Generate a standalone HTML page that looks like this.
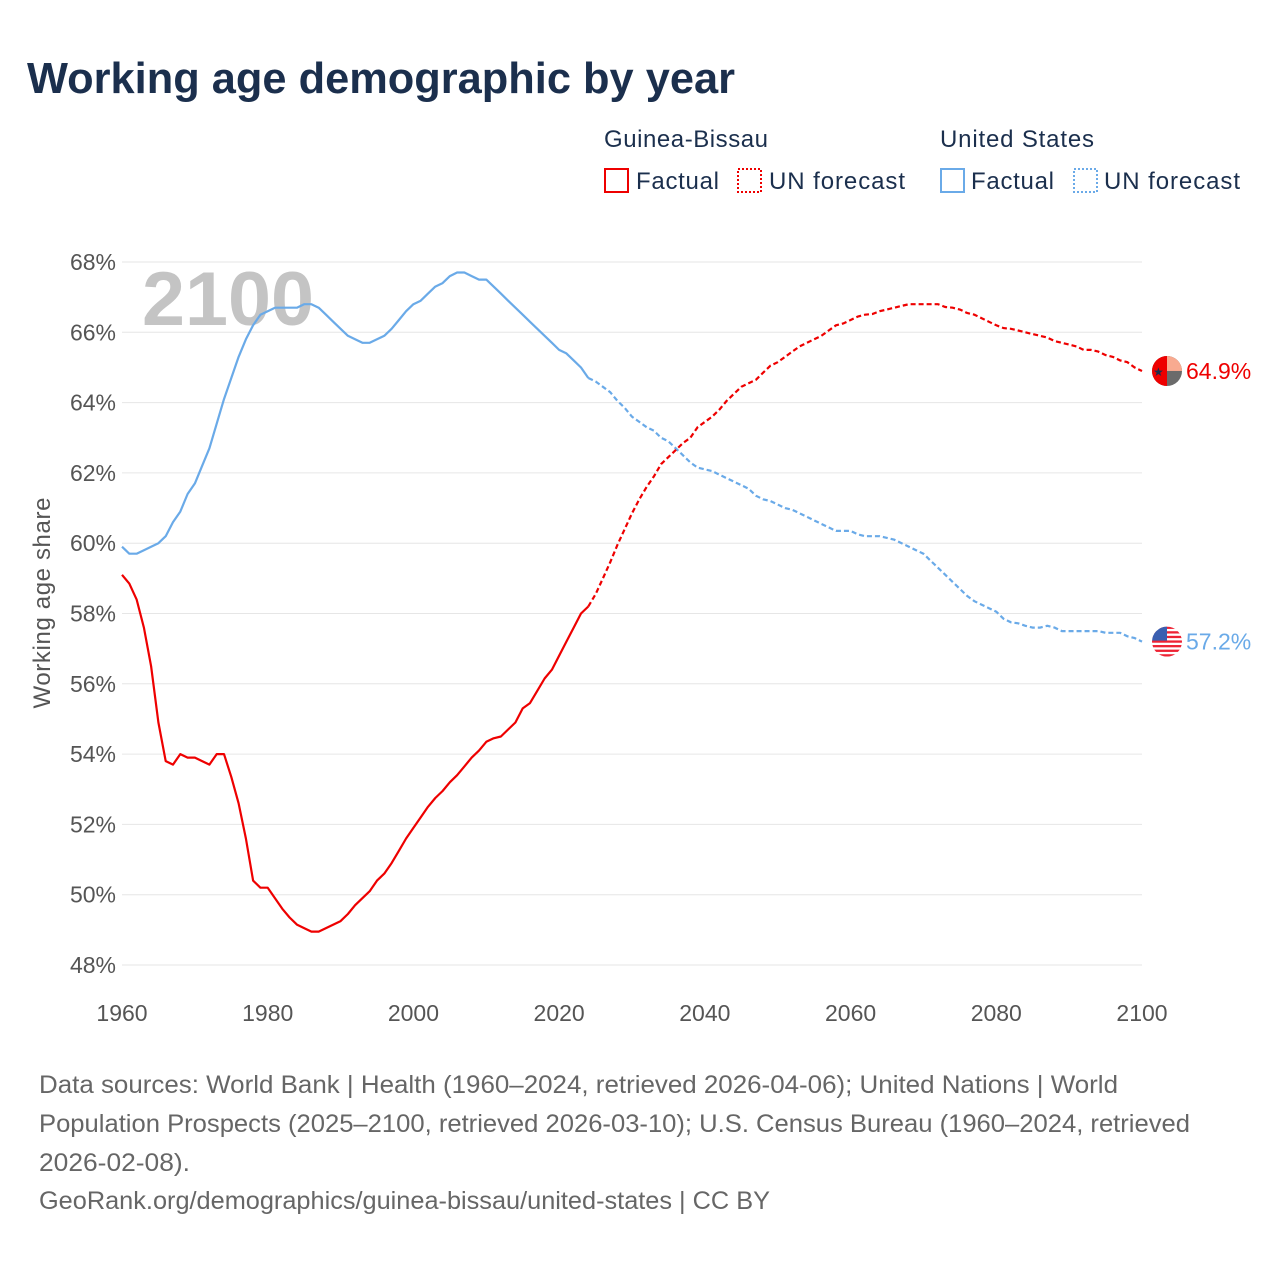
<!DOCTYPE html>
<html><head><meta charset="utf-8">
<style>
body{margin:0;background:#fff;}
svg text{font-family:"Liberation Sans",sans-serif;}
</style></head>
<body>
<svg id="chart" width="1280" height="1280" viewBox="0 0 1280 1280" xmlns="http://www.w3.org/2000/svg">
<rect width="1280" height="1280" fill="#fff"/>
<text x="27" y="93" font-size="44" font-weight="bold" fill="#1b2f4d" textLength="708" lengthAdjust="spacingAndGlyphs">Working age demographic by year</text>
<g font-size="24" fill="#1b2f4d">
<text x="604" y="147" textLength="164">Guinea-Bissau</text>
<text x="940" y="147" textLength="154">United States</text>
<g><rect x="605" y="169" width="23" height="23" fill="none" stroke="#ee0000" stroke-width="2"/><text x="636" y="189" textLength="83">Factual</text></g>
<g><rect x="738" y="169" width="23" height="23" fill="none" stroke="#ee0000" stroke-width="2" stroke-dasharray="2,2"/><text x="769" y="189" textLength="136">UN forecast</text></g>
<g><rect x="941" y="169" width="23" height="23" fill="none" stroke="#6aaae8" stroke-width="2"/><text x="971" y="189" textLength="83">Factual</text></g>
<g><rect x="1074" y="169" width="23" height="23" fill="none" stroke="#6aaae8" stroke-width="2" stroke-dasharray="2,2"/><text x="1104" y="189" textLength="136">UN forecast</text></g>
</g>
<g id="grid"></g>
<text x="142" y="325" font-size="76" font-weight="bold" fill="#c4c4c4" textLength="172" lengthAdjust="spacingAndGlyphs">2100</text>
<g id="series"></g>
<text transform="translate(50,603) rotate(-90)" text-anchor="middle" font-size="24" fill="#555" textLength="211">Working age share</text>
<g font-size="25" fill="#666">
<text x="39" y="1093" textLength="1079" lengthAdjust="spacingAndGlyphs">Data sources: World Bank | Health (1960–2024, retrieved 2026-04-06); United Nations | World</text>
<text x="39" y="1132" textLength="1151" lengthAdjust="spacingAndGlyphs">Population Prospects (2025–2100, retrieved 2026-03-10); U.S. Census Bureau (1960–2024, retrieved</text>
<text x="39" y="1171" textLength="151" lengthAdjust="spacingAndGlyphs">2026-02-08).</text>
<text x="39" y="1209" textLength="731" lengthAdjust="spacingAndGlyphs">GeoRank.org/demographics/guinea-bissau/united-states | CC BY</text>
</g>
</svg>
<script>
const yTicks=[48,50,52,54,56,58,60,62,64,66,68];
const xTicks=[1960,1980,2000,2020,2040,2060,2080,2100];
const startYear=1960;
const lastFactualYear=2024;
const usValues=[59.9,59.7,59.7,59.8,59.9,60.0,60.2,60.6,60.9,61.4,61.7,62.2,62.7,63.4,64.1,64.7,65.3,65.8,66.2,66.5,66.6,66.7,66.7,66.7,66.7,66.8,66.8,66.7,66.5,66.3,66.1,65.9,65.8,65.7,65.7,65.8,65.9,66.1,66.35,66.6,66.8,66.9,67.1,67.3,67.4,67.6,67.7,67.7,67.6,67.5,67.5,67.3,67.1,66.9,66.7,66.5,66.3,66.1,65.9,65.7,65.5,65.4,65.2,65.0,64.7,
64.6,64.45,64.3,64.05,63.85,63.6,63.45,63.3,63.2,63.0,62.9,62.7,62.5,62.3,62.15,62.1,62.05,61.95,61.85,61.75,61.65,61.55,61.35,61.25,61.2,61.1,61.0,60.95,60.85,60.75,60.65,60.55,60.45,60.35,60.35,60.35,60.25,60.2,60.2,60.2,60.15,60.1,60.0,59.9,59.8,59.7,59.5,59.3,59.1,58.9,58.7,58.5,58.35,58.25,58.15,58.05,57.85,57.75,57.72,57.65,57.6,57.6,57.65,57.6,57.5,57.5,57.5,57.5,57.5,57.5,57.45,57.45,57.45,57.35,57.3,57.2];
const gbValues=[59.1,58.85,58.4,57.6,56.5,54.9,53.8,53.7,54.0,53.9,53.9,53.8,53.7,54.0,54.0,53.35,52.6,51.6,50.4,50.2,50.2,49.9,49.6,49.35,49.15,49.05,48.95,48.95,49.05,49.15,49.25,49.45,49.7,49.9,50.1,50.4,50.6,50.9,51.25,51.6,51.9,52.2,52.5,52.75,52.95,53.2,53.4,53.65,53.9,54.1,54.35,54.45,54.5,54.7,54.9,55.3,55.45,55.8,56.15,56.4,56.8,57.2,57.6,58.0,58.2,
58.55,59.0,59.45,59.95,60.4,60.85,61.25,61.6,61.9,62.25,62.45,62.65,62.85,63.0,63.3,63.45,63.6,63.8,64.05,64.25,64.45,64.55,64.65,64.85,65.05,65.15,65.3,65.45,65.6,65.7,65.8,65.9,66.05,66.2,66.25,66.35,66.45,66.5,66.52,66.6,66.65,66.7,66.75,66.8,66.8,66.8,66.8,66.8,66.72,66.7,66.65,66.55,66.5,66.4,66.3,66.2,66.12,66.1,66.05,66.0,65.95,65.9,65.85,65.75,65.7,65.65,65.6,65.5,65.5,65.45,65.35,65.3,65.2,65.15,65.0,64.9];
const endLabels=["64.9%","57.2%"];

const NS="http://www.w3.org/2000/svg";
const X=y=>122+(y-1960)*(1142-122)/140;
const Y=v=>965-(v-48)*(965-262)/20;
function mk(tag,attrs,parent){const e=document.createElementNS(NS,tag);for(const k in attrs)e.setAttribute(k,attrs[k]);parent.appendChild(e);return e;}
const grid=document.getElementById('grid');
yTicks.forEach(t=>{
  const l=mk('line',{x1:122,x2:1142,y1:Y(t),y2:Y(t),stroke:'#e6e6e6','stroke-width':1},grid);
  
  
  const tx=mk('text',{x:116,y:Y(t)+8,'text-anchor':'end','font-size':23,fill:'#555'},grid);
  tx.textContent=t+'%';
  
  
});
xTicks.forEach(t=>{
  const tx=mk('text',{x:X(t),y:1021,'text-anchor':'middle','font-size':23,fill:'#555'},grid);
  tx.textContent=t;
  
  
});
const series=document.getElementById('series');
function pts(vals,a,b){const r=[];for(let i=a;i<=b;i++)r.push(X(startYear+i).toFixed(1)+','+Y(vals[i]).toFixed(1));return r.join(' ');}
const split=lastFactualYear-startYear;
[[usValues,'#6aaae8','us'],[gbValues,'#ee0000','gb']].forEach(([vals,col,id])=>{
  const f=mk('polyline',{points:pts(vals,0,split),fill:'none',stroke:col,'stroke-width':2.2,'stroke-linejoin':'round'},series);
  
  
  const p=mk('polyline',{points:pts(vals,split,vals.length-1),fill:'none',stroke:col,'stroke-width':2.2,'stroke-dasharray':'5,3'},series);
  
  
});
const gy=Y(gbValues[gbValues.length-1]), uy=Y(usValues[usValues.length-1]);
const gbF=mk('g',{},series);


const cg=mk('clipPath',{id:'cg'},gbF);mk('circle',{cx:1167,cy:gy,r:15},cg);
const gg=mk('g',{'clip-path':'url(#cg)'},gbF);
mk('rect',{x:1152,y:gy-15,width:30,height:30,fill:'#6b6b6b'},gg);
mk('rect',{x:1167,y:gy-15,width:15,height:15,fill:'#f8aa90'},gg);
mk('rect',{x:1152,y:gy-15,width:15,height:30,fill:'#ee0000'},gg);
mk('text',{x:1153,y:gy+5,'font-size':12,fill:'#1b2f4d'},gg).textContent='★';
const usF=mk('g',{},series);


const cp=mk('clipPath',{id:'cu'},usF);mk('circle',{cx:1167,cy:uy,r:15},cp);
const ug=mk('g',{'clip-path':'url(#cu)'},usF);
mk('rect',{x:1152,y:uy-15,width:30,height:30,fill:'#fff'},ug);
for(let i=0;i<7;i++)mk('rect',{x:1152,y:uy-15+i*4.6,width:30,height:2.3,fill:'#ee2233'},ug);
mk('rect',{x:1152,y:uy-15,width:15,height:14,fill:'#3a5fb0'},ug);
const gl=mk('text',{x:1186,y:gy+8,'font-size':23,fill:'#ee0000'},series);gl.textContent=endLabels[0];


const ul=mk('text',{x:1186,y:uy+8,'font-size':23,fill:'#6aaae8'},series);ul.textContent=endLabels[1];


</script>
</body></html>
